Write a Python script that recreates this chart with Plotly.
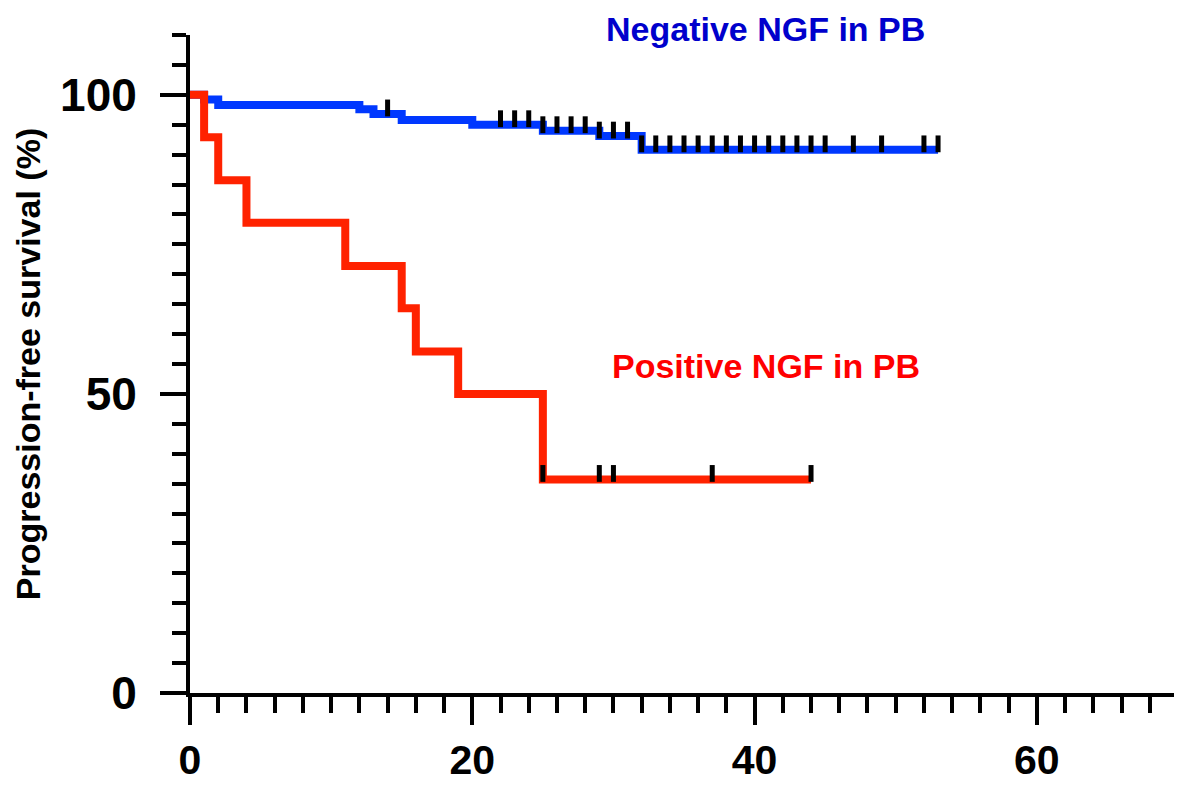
import numpy as np
import plotly.graph_objects as go

# ---- data ----
neg_times = [0, 1, 2, 12, 13, 15, 20, 25, 29, 32]
neg_surv = [100, 99.2, 98.3, 97.6, 96.8, 95.8, 95.0, 94.0, 93.1, 90.8]
neg_end = 53
neg_censor = [14, 22, 23, 24, 25, 26, 27, 28, 29, 30, 31, 32, 33, 34, 35, 36, 37,
              38, 39, 40, 41, 42, 43, 44, 45, 47, 49, 52, 53]

pos_times = [0, 1, 2, 4, 11, 15, 16, 19, 25]
pos_surv = [100, 92.9, 85.7, 78.6, 71.4, 64.3, 57.1, 50.0, 35.7]
pos_end = 44
pos_censor = [25, 29, 30, 37, 44]

x_ticks = [0, 20, 40, 60]
y_ticks = [0, 50, 100]

neg_label = "Negative NGF in PB"
pos_label = "Positive NGF in PB"
y_title = "Progression-free survival (%)"

# ---- styling ----
BLUE = "#0038ff"
RED = "#ff2200"
FONT = "Liberation Sans, Arial, sans-serif"
PAGE_PAD = 8  # default body margin of the html page
W, H = 1182 - PAGE_PAD, 785 - PAGE_PAD
M = dict(l=190 - PAGE_PAD, r=4, t=35 - PAGE_PAD, b=92)
Y_RANGE = [0, 110]
X_RANGE = [0, 70]
plot_h = H - M["t"] - M["b"]
tick_off = 6 * (Y_RANGE[1] - Y_RANGE[0]) / plot_h  # lift censor marks 6px


def step_xy(times, surv, end):
    return list(times) + [end], list(surv) + [surv[-1]]


def censor_y(times, surv, ct):
    idx = np.searchsorted(np.array(times), np.array(ct), side="right") - 1
    return (np.array(surv)[idx] + tick_off).tolist()


fig = go.Figure()
nx, ny = step_xy(neg_times, neg_surv, neg_end)
px_, py_ = step_xy(pos_times, pos_surv, pos_end)
fig.add_trace(go.Scatter(x=nx, y=ny, mode="lines", line=dict(color=BLUE, width=8, shape="hv"),
                         showlegend=False, hoverinfo="skip"))
fig.add_trace(go.Scatter(x=px_, y=py_, mode="lines", line=dict(color=RED, width=8, shape="hv"),
                         showlegend=False, hoverinfo="skip"))
fig.add_trace(go.Scatter(x=neg_censor, y=censor_y(neg_times, neg_surv, neg_censor), mode="markers",
                         marker=dict(symbol="line-ns", size=12, line=dict(color="black", width=5)),
                         showlegend=False, cliponaxis=False, hoverinfo="skip"))
fig.add_trace(go.Scatter(x=pos_censor, y=censor_y(pos_times, pos_surv, pos_censor), mode="markers",
                         marker=dict(symbol="line-ns", size=12, line=dict(color="black", width=5)),
                         showlegend=False, cliponaxis=False, hoverinfo="skip"))

fig.add_annotation(x=40.8, y=111 / Y_RANGE[1], xref="x", yref="paper", text=neg_label, showarrow=False,
                   font=dict(family=FONT, size=34, color="#0000cc", weight="bold"), yanchor="middle")
fig.add_annotation(x=40.8, y=54.7, xref="x", yref="y", text=pos_label, showarrow=False,
                   font=dict(family=FONT, size=34, color="#ff0000", weight="bold"), yanchor="middle")

axis_common = dict(showline=True, linewidth=4, linecolor="black", ticks="outside", tickwidth=4,
                   tickcolor="black", showgrid=False, zeroline=False, automargin=False)
fig.update_xaxes(range=X_RANGE, tickvals=x_ticks, ticklen=28, ticklabelstandoff=0,
                 tickfont=dict(family=FONT, size=41, color="black", weight="bold"),
                 minor=dict(dtick=2, tick0=0, ticklen=16, tickwidth=4, ticks="outside", tickcolor="black"),
                 **axis_common)
fig.update_yaxes(range=Y_RANGE, tickvals=y_ticks, ticklen=26, ticklabelstandoff=14,
                 tickfont=dict(family=FONT, size=46, color="black", weight="bold"),
                 minor=dict(dtick=5, tick0=0, ticklen=14, tickwidth=4, ticks="outside", tickcolor="black"),
                 title=dict(text=y_title, font=dict(family=FONT, size=34, color="black", weight="bold"),
                            standoff=10),
                 **axis_common)

fig.update_layout(width=W, height=H, autosize=False, margin=M, plot_bgcolor="white",
                  paper_bgcolor="white")
fig.write_html("out.html")
